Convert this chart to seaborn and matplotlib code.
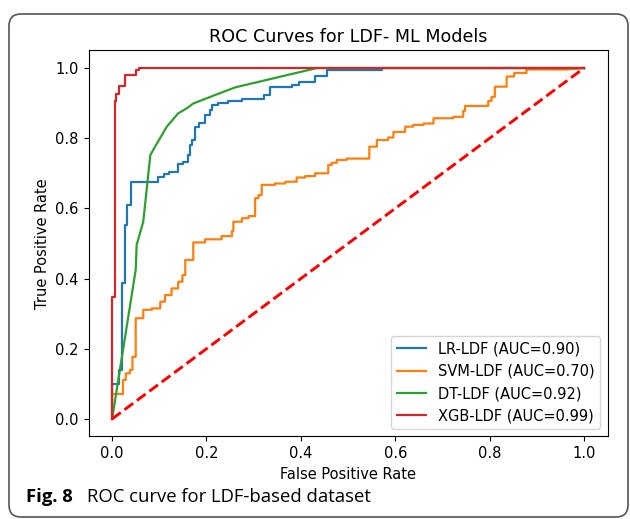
import matplotlib
matplotlib.use("Agg")
import matplotlib.pyplot as plt
from matplotlib.patches import FancyBboxPatch
import seaborn as sns
import pandas as pd

# Model names, AUC scores and line colours
models = ["LR-LDF", "SVM-LDF", "DT-LDF", "XGB-LDF"]
aucs = [0.90, 0.70, 0.92, 0.99]
colors = ["#1f77b4", "#ff7f0e", "#2ca02c", "#d62728"]

# ROC points (false positive rate, true positive rate) per model
lr_fpr = [0.0, 0.0, 0.015, 0.015, 0.021, 0.021, 0.028, 0.028, 0.032, 0.032,
          0.040, 0.040, 0.098, 0.098, 0.109, 0.109, 0.121, 0.121, 0.140, 0.140,
          0.151, 0.151, 0.160, 0.160, 0.164, 0.164, 0.170, 0.170, 0.176, 0.176,
          0.185, 0.185, 0.197, 0.197, 0.208, 0.208, 0.211, 0.211, 0.225, 0.225,
          0.246, 0.246, 0.275, 0.275, 0.321, 0.321, 0.335, 0.335, 0.381, 0.381,
          0.395, 0.395, 0.430, 0.430, 0.455, 0.455, 0.571, 0.571, 1.0]
lr_tpr = [0.0, 0.10, 0.10, 0.14, 0.14, 0.387, 0.387, 0.553, 0.553, 0.61,
          0.61, 0.676, 0.676, 0.69, 0.69, 0.697, 0.697, 0.703, 0.703, 0.726,
          0.726, 0.731, 0.731, 0.752, 0.752, 0.781, 0.781, 0.795, 0.795, 0.833,
          0.833, 0.842, 0.842, 0.866, 0.866, 0.880, 0.880, 0.894, 0.894, 0.901,
          0.901, 0.907, 0.907, 0.911, 0.911, 0.923, 0.923, 0.945, 0.945, 0.952,
          0.952, 0.959, 0.959, 0.978, 0.978, 0.994, 0.994, 1.0, 1.0]

svm_fpr = [0.0, 0.0, 0.023, 0.023, 0.029, 0.029, 0.038, 0.038, 0.043, 0.043,
           0.050, 0.050, 0.066, 0.066, 0.084, 0.084, 0.102, 0.102, 0.112, 0.112,
           0.126, 0.126, 0.140, 0.140, 0.149, 0.149, 0.155, 0.155, 0.172, 0.172,
           0.197, 0.197, 0.232, 0.232, 0.254, 0.254, 0.257, 0.257, 0.275, 0.275,
           0.289, 0.289, 0.303, 0.303, 0.310, 0.310, 0.317, 0.317, 0.345, 0.345,
           0.367, 0.367, 0.391, 0.391, 0.409, 0.409, 0.430, 0.430, 0.458, 0.458,
           0.465, 0.465, 0.476, 0.476, 0.497, 0.497, 0.545, 0.545, 0.561, 0.561,
           0.585, 0.585, 0.596, 0.596, 0.621, 0.621, 0.638, 0.638, 0.660, 0.660,
           0.681, 0.681, 0.723, 0.723, 0.744, 0.744, 0.748, 0.748, 0.797, 0.797,
           0.804, 0.804, 0.811, 0.811, 0.836, 0.836, 0.852, 0.852, 0.878, 0.878,
           0.965, 1.0]
svm_tpr = [0.0, 0.071, 0.071, 0.111, 0.111, 0.130, 0.130, 0.140, 0.140, 0.177,
           0.177, 0.287, 0.287, 0.311, 0.311, 0.315, 0.315, 0.334, 0.334, 0.353,
           0.353, 0.372, 0.372, 0.391, 0.391, 0.410, 0.410, 0.453, 0.453, 0.503,
           0.503, 0.512, 0.512, 0.521, 0.521, 0.536, 0.536, 0.562, 0.562, 0.572,
           0.572, 0.578, 0.578, 0.629, 0.629, 0.638, 0.638, 0.667, 0.667, 0.671,
           0.671, 0.676, 0.676, 0.688, 0.688, 0.692, 0.692, 0.700, 0.700, 0.724,
           0.724, 0.730, 0.730, 0.738, 0.738, 0.742, 0.742, 0.776, 0.776, 0.795,
           0.795, 0.802, 0.802, 0.818, 0.818, 0.833, 0.833, 0.838, 0.838, 0.842,
           0.842, 0.857, 0.857, 0.861, 0.861, 0.878, 0.878, 0.892, 0.892, 0.906,
           0.906, 0.918, 0.918, 0.947, 0.947, 0.976, 0.976, 0.986, 0.986, 0.996,
           0.996, 1.0]

dt_fpr = [0.0, 0.050, 0.052, 0.066, 0.081, 0.091, 0.116, 0.140, 0.158, 0.172,
          0.218, 0.261, 0.434, 1.0]
dt_tpr = [0.0, 0.425, 0.496, 0.562, 0.752, 0.776, 0.833, 0.871, 0.885, 0.899,
          0.923, 0.945, 1.0, 1.0]

xgb_fpr = [0.0, 0.0, 0.006, 0.006, 0.008, 0.008, 0.015, 0.015, 0.028, 0.028,
           0.050, 0.050, 0.057, 0.057, 1.0]
xgb_tpr = [0.0, 0.348, 0.348, 0.906, 0.906, 0.926, 0.926, 0.95, 0.95, 0.98,
           0.98, 0.995, 0.995, 1.0, 1.0]

curves = [(lr_fpr, lr_tpr), (svm_fpr, svm_tpr), (dt_fpr, dt_tpr), (xgb_fpr, xgb_tpr)]

title = "ROC Curves for LDF- ML Models"
xlabel = "False Positive Rate"
ylabel = "True Positive Rate"
caption_bold = "Fig. 8"
caption_text = "ROC curve for LDF-based dataset"

base = 10.5
plt.rcParams.update({
    "font.size": base,
    "xtick.labelsize": base,
    "ytick.labelsize": base,
    "axes.labelsize": base,
    "legend.fontsize": base,
})

fig = plt.figure(figsize=(6.30, 5.19), dpi=100)
ax = fig.add_axes([0.1405, 0.159, 0.8240, 0.7437])

for name, auc, color, (fpr, tpr) in zip(models, aucs, colors, curves):
    df = pd.DataFrame({"fpr": fpr, "tpr": tpr})
    sns.lineplot(data=df, x="fpr", y="tpr", sort=False, estimator=None,
                 color=color, linewidth=1.6, label=f"{name} (AUC={auc:.2f})", ax=ax)

# chance diagonal
diag = pd.DataFrame({"fpr": [0.0, 1.0], "tpr": [0.0, 1.0]})
sns.lineplot(data=diag, x="fpr", y="tpr", color="red", linestyle="--",
             linewidth=2.1, ax=ax, legend=False)

ax.set_title(title, fontsize=12.6)
ax.set_xlabel(xlabel)
ax.set_ylabel(ylabel)
ax.set_xlim(-0.05, 1.05)
ax.set_ylim(-0.05, 1.05)
ax.set_xticks([0.0, 0.2, 0.4, 0.6, 0.8, 1.0])
ax.set_yticks([0.0, 0.2, 0.4, 0.6, 0.8, 1.0])
ax.legend(loc="lower right")

# rounded frame around the figure panel
frame = FancyBboxPatch((0.09 + 0.12, 0.02 + 0.12), 6.19 - 0.24, 5.03 - 0.24,
                       boxstyle="round,pad=0.12", transform=fig.dpi_scale_trans,
                       facecolor="none", edgecolor="#555555", linewidth=1.2)
fig.patches.append(frame)

fig.text(0.041, 0.042, caption_bold, fontsize=13.3, fontweight="bold",
         family=["Open Sans", "DejaVu Sans"], va="center", ha="left")
fig.text(0.138, 0.042, caption_text, fontsize=13.3,
         family=["Open Sans", "DejaVu Sans"], va="center", ha="left")

fig.savefig("out.png", dpi=100)
